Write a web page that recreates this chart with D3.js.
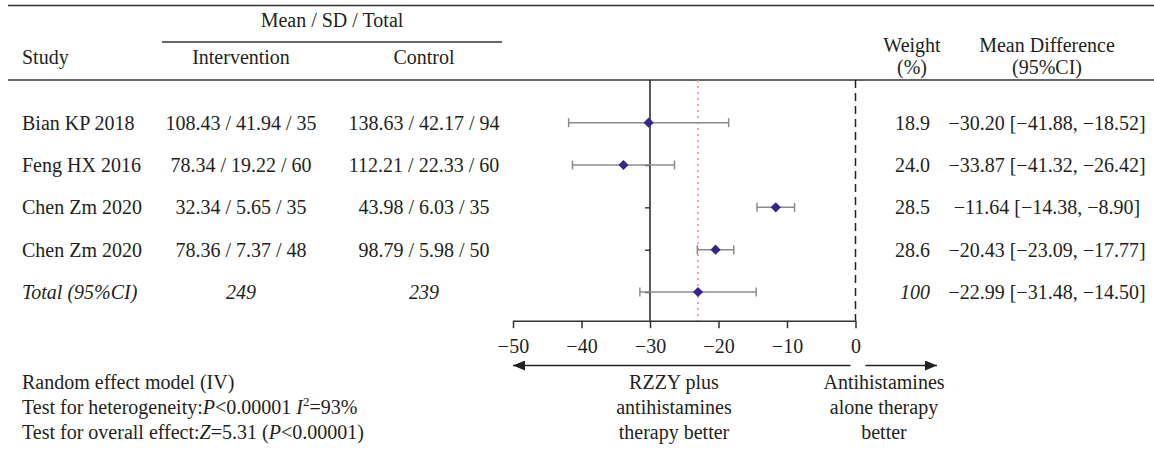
<!DOCTYPE html>
<html>
<head>
<meta charset="utf-8">
<script src="https://cdn.jsdelivr.net/npm/d3@7"></script>
<style>
  body { margin: 0; background: #fff; }
  svg text { font-family: "Liberation Serif", "Times New Roman", serif; font-size: 20px; fill: #231f20; }
</style>
</head>
<body>
<svg id="chart" width="1154" height="451"></svg>
<script>
var studies = ["Bian KP 2018", "Feng HX 2016", "Chen Zm 2020", "Chen Zm 2020"];
var intMean = [108.43, 78.34, 32.34, 78.36];
var intSD = [41.94, 19.22, 5.65, 7.37];
var intN = [35, 60, 35, 48];
var ctlMean = [138.63, 112.21, 43.98, 98.79];
var ctlSD = [42.17, 22.33, 6.03, 5.98];
var ctlN = [94, 60, 35, 50];
var weights = [18.9, 24.0, 28.5, 28.6];
var md = [-30.20, -33.87, -11.64, -20.43];
var ciLow = [-41.88, -41.32, -14.38, -23.09];
var ciHigh = [-18.52, -26.42, -8.90, -17.77];

var totalLabel = "Total (95%CI)";
var totalN = [249, 239];
var totalWeight = 100;
var totalMd = -22.99, totalLow = -31.48, totalHigh = -14.50;

var xTicks = [-50, -40, -30, -20, -10, 0];
var yAxisAt = -30;

var svg = d3.select("#chart");
var f2 = d3.format(".2f"), f1 = d3.format(".1f");

var x = d3.scaleLinear().domain([-50, 0]).range([513, 855.5]);
var rowKeys = d3.range(studies.length + 1);
var y = d3.scalePoint().domain(rowKeys).range([122.7, 292]);

var plotTop = 80, plotBottom = 320.7;
var colInt = 241, colCtl = 424, colW = 930, colMd = 1047;

// header rules
svg.append("line").attr("x1", 8).attr("x2", 1154).attr("y1", 5.5).attr("y2", 5.5)
  .attr("stroke", "#333").attr("stroke-width", 1.5);
svg.append("line").attr("x1", 8).attr("x2", 1154).attr("y1", plotTop).attr("y2", plotTop)
  .attr("stroke", "#333").attr("stroke-width", 1.5);
svg.append("line").attr("x1", 162).attr("x2", 502).attr("y1", 42).attr("y2", 42)
  .attr("stroke", "#333").attr("stroke-width", 1.5);

svg.append("text").attr("x", 332).attr("y", 27).attr("text-anchor", "middle").text("Mean / SD / Total");
svg.append("text").attr("x", 22).attr("y", 64).text("Study");
svg.append("text").attr("x", colInt).attr("y", 64).attr("text-anchor", "middle").text("Intervention");
svg.append("text").attr("x", colCtl).attr("y", 64).attr("text-anchor", "middle").text("Control");
svg.append("text").attr("x", 912).attr("y", 52).attr("text-anchor", "middle").text("Weight");
svg.append("text").attr("x", 912).attr("y", 74).attr("text-anchor", "middle").text("(%)");
svg.append("text").attr("x", colMd).attr("y", 52).attr("text-anchor", "middle").text("Mean Difference");
svg.append("text").attr("x", colMd).attr("y", 74).attr("text-anchor", "middle").text("(95%CI)");

// table rows
var rows = studies.map(function(s, i) {
  return {
    name: s,
    int: f2(intMean[i]) + " / " + f2(intSD[i]) + " / " + intN[i],
    ctl: f2(ctlMean[i]) + " / " + f2(ctlSD[i]) + " / " + ctlN[i],
    w: f1(weights[i]),
    md: md[i], lo: ciLow[i], hi: ciHigh[i], italic: false
  };
});
rows.push({
  name: totalLabel, int: String(totalN[0]), ctl: String(totalN[1]),
  w: String(totalWeight), md: totalMd, lo: totalLow, hi: totalHigh, italic: true
});

var rowG = svg.selectAll("g.row").data(rows).enter().append("g")
  .attr("class", "row")
  .attr("transform", function(d, i) { return "translate(0," + (y(i) + 7) + ")"; });

rowG.append("text").attr("x", 22).text(function(d) { return d.name; })
  .attr("font-style", function(d) { return d.italic ? "italic" : null; });
rowG.append("text").attr("x", colInt).attr("text-anchor", "middle").text(function(d) { return d.int; })
  .attr("font-style", function(d) { return d.italic ? "italic" : null; });
rowG.append("text").attr("x", colCtl).attr("text-anchor", "middle").text(function(d) { return d.ctl; })
  .attr("font-style", function(d) { return d.italic ? "italic" : null; });
rowG.append("text").attr("x", colW).attr("text-anchor", "end").text(function(d) { return d.w; })
  .attr("font-style", function(d) { return d.italic ? "italic" : null; });
rowG.append("text").attr("x", colMd).attr("text-anchor", "middle")
  .text(function(d) { return f2(d.md) + " [" + f2(d.lo) + ", " + f2(d.hi) + "]"; });

// reference lines
svg.append("line").attr("x1", x(0)).attr("x2", x(0)).attr("y1", plotTop).attr("y2", plotBottom)
  .attr("stroke", "#222").attr("stroke-width", 1.5).attr("stroke-dasharray", "8,5");
svg.append("line").attr("x1", x(totalMd)).attr("x2", x(totalMd)).attr("y1", plotTop).attr("y2", plotBottom)
  .attr("stroke", "#f08a78").attr("stroke-width", 1.5).attr("stroke-dasharray", "2,4");

// vertical axis
svg.append("line").attr("x1", x(yAxisAt)).attr("x2", x(yAxisAt)).attr("y1", plotTop).attr("y2", plotBottom)
  .attr("stroke", "#222").attr("stroke-width", 1.5);
var yAxis = svg.append("g").attr("transform", "translate(" + x(yAxisAt) + ",0)")
  .call(d3.axisLeft(y).tickSize(5).tickSizeOuter(0).tickFormat(""));
yAxis.select(".domain").remove();
yAxis.selectAll("line").attr("stroke", "#222").attr("stroke-width", 1.3);

// x axis
var xAxis = svg.append("g").attr("transform", "translate(0," + plotBottom + ")")
  .call(d3.axisBottom(x).tickValues(xTicks).tickSize(7.5).tickSizeOuter(0).tickPadding(10.5));
xAxis.select(".domain").attr("stroke", "#333").attr("stroke-width", 1.5);
xAxis.selectAll(".tick line").attr("stroke", "#333").attr("stroke-width", 1.5);
xAxis.attr("font-size", null).attr("font-family", null);

// CIs and points
var ci = svg.selectAll("g.ci").data(rows).enter().append("g").attr("class", "ci")
  .attr("transform", function(d, i) { return "translate(0," + y(i) + ")"; });
ci.append("line").attr("x1", function(d) { return x(d.lo); }).attr("x2", function(d) { return x(d.hi); })
  .attr("stroke", "#8c8c8c").attr("stroke-width", 1.5);
ci.append("line").attr("x1", function(d) { return x(d.lo); }).attr("x2", function(d) { return x(d.lo); })
  .attr("y1", -4.5).attr("y2", 4.5).attr("stroke", "#8c8c8c").attr("stroke-width", 1.5);
ci.append("line").attr("x1", function(d) { return x(d.hi); }).attr("x2", function(d) { return x(d.hi); })
  .attr("y1", -4.5).attr("y2", 4.5).attr("stroke", "#8c8c8c").attr("stroke-width", 1.5);
ci.append("path")
  .attr("d", d3.symbol().type(d3.symbolSquare).size(52))
  .attr("transform", function(d) { return "translate(" + x(d.md) + ",0) rotate(45)"; })
  .attr("fill", "#35268a");

// direction arrows
var defs = svg.append("defs");
defs.append("marker").attr("id", "arr").attr("viewBox", "0 0 12 10").attr("refX", 12).attr("refY", 5)
  .attr("markerWidth", 12).attr("markerHeight", 10).attr("markerUnits", "userSpaceOnUse")
  .attr("orient", "auto")
  .append("path").attr("d", "M0,0L12,5L0,10Z").attr("fill", "#222");
var arrowY = 365.5;
svg.append("line").attr("x1", x(0) - 5).attr("x2", x(-50)).attr("y1", arrowY).attr("y2", arrowY)
  .attr("stroke", "#222").attr("stroke-width", 1.5).attr("marker-end", "url(#arr)");
svg.append("line").attr("x1", x(0) + 10).attr("x2", 937).attr("y1", arrowY).attr("y2", arrowY)
  .attr("stroke", "#222").attr("stroke-width", 1.5).attr("marker-end", "url(#arr)");

var leftLabel = ["RZZY plus", "antihistamines", "therapy better"];
var rightLabel = ["Antihistamines", "alone therapy", "better"];
var lineY = [389, 414, 439];
svg.selectAll("text.ll").data(leftLabel).enter().append("text").attr("class", "ll")
  .attr("x", 674).attr("y", function(d, i) { return lineY[i]; }).attr("text-anchor", "middle").text(function(d) { return d; });
svg.selectAll("text.rl").data(rightLabel).enter().append("text").attr("class", "rl")
  .attr("x", 884).attr("y", function(d, i) { return lineY[i]; }).attr("text-anchor", "middle").text(function(d) { return d; });

// footer statistics
var foot = svg.append("g");
foot.append("text").attr("x", 22).attr("y", lineY[0]).text("Random effect model (IV)");
var t2 = foot.append("text").attr("x", 22).attr("y", lineY[1]);
t2.append("tspan").text("Test for heterogeneity:");
t2.append("tspan").attr("font-style", "italic").text("P");
t2.append("tspan").text("<0.00001 ");
t2.append("tspan").attr("font-style", "italic").text("I");
t2.append("tspan").attr("font-size", "13px").attr("dy", -8).text("2");
t2.append("tspan").attr("dy", 8).text("=93%");
var t3 = foot.append("text").attr("x", 22).attr("y", lineY[2]);
t3.append("tspan").text("Test for overall effect:");
t3.append("tspan").attr("font-style", "italic").text("Z");
t3.append("tspan").text("=5.31 (");
t3.append("tspan").attr("font-style", "italic").text("P");
t3.append("tspan").text("<0.00001)");
</script>
</body>
</html>
